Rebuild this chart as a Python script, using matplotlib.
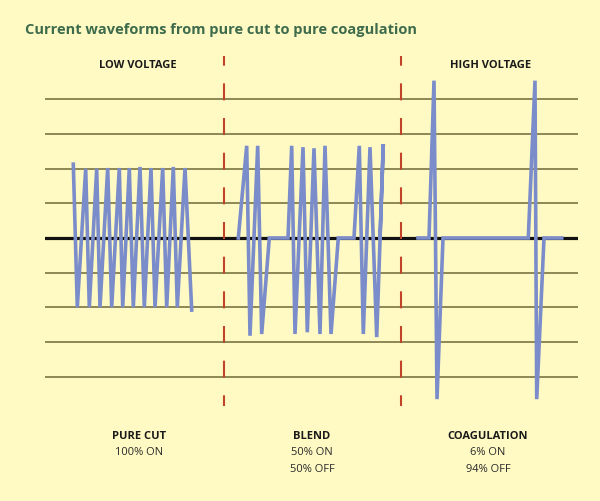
import numpy as np
import matplotlib
matplotlib.use("Agg")
import matplotlib.pyplot as plt

# waveform data: x in time units (px from left of the grid), y in grid units
cut_x = [28.3, 32.3, 40.7, 44.3, 51.7, 55.0, 62.7, 66.7, 74.3, 77.7, 84.3,
         88.3, 95.0, 99.3, 106.0, 110.0, 117.7, 121.7, 128.3, 132.3, 140.0, 146.7]
cut_y = [2.13, -2.0, 2.0, -2.0, 2.0, -2.0, 2.02, -2.0, 2.02, -2.0, 2.02,
         -2.0, 2.05, -2.0, 2.02, -2.0, 2.02, -2.0, 2.05, -2.0, 2.02, -2.08]

blend_x = [193.3, 201.7, 205.0, 212.7, 216.7, 224.3, 243.0, 246.7, 250.0, 258.0,
           262.3, 269.0, 275.0, 280.0, 286.0, 293.3, 309.0, 314.3, 318.3, 325.0,
           331.7, 338.3, 335.0]
blend_y = [0, 2.66, -2.82, 2.66, -2.77, 0, 0, 2.66, -2.77, 2.62,
           -2.72, 2.59, -2.77, 2.66, -2.77, 0, 0, 2.66, -2.77, 2.62,
           -2.86, 2.71, 0]

coag_x = [373.0, 384.0, 389.0, 392.0, 398.0, 483.3, 490.0, 491.7, 499.0, 516.7]
coag_y = [0, 0, 4.54, -4.65, 0, 0, 4.54, -4.65, 0, 0]

grid_levels = [-4, -3, -2, -1, 1, 2, 3, 4]
divider_x = [179, 356]

section_heads = ["PURE CUT", "BLEND", "COAGULATION"]
section_lines = [["100% ON"], ["50% ON", "50% OFF"], ["6% ON", "94% OFF"]]
section_cx = [139, 312, 488]

W, H = 600, 502
bg = "#fffac3"
blue = "#7b8ccb"

fig = plt.figure(figsize=(W / 100, H / 100), dpi=100)
fig.patch.set_facecolor(bg)

# axes spans the grid horizontally and the whole figure vertically
x0, x1 = 45, 578
base_px, unit_px = 239, 34.66
ax = fig.add_axes([x0 / W, 0, (x1 - x0) / W, 1])
ax.set_xlim(0, x1 - x0)
ax.set_ylim(-(H - base_px) / unit_px, base_px / unit_px)
ax.axis("off")

for lv in grid_levels:
    ax.axhline(lv, color="#6e6838", lw=1.1, zorder=1)
ax.axhline(0, color="#111111", lw=2.3, zorder=1)

# dashes end on each grid line: 17px on, 17.66px off (px -> pt, scaled by lw)
red_lw = 1.5
px2pt = 0.72 / red_lw
for dx in divider_x:
    ax.plot([dx, dx], [5.25, -4.85], color="#c0432a", lw=red_lw,
            linestyle=(7.3 * px2pt, (17 * px2pt, 17.66 * px2pt)), zorder=2)

for xs, ys in [(cut_x, cut_y), (blend_x, blend_y), (coag_x, coag_y)]:
    ax.plot(xs, ys, color=blue, lw=2.6, solid_joinstyle="miter", zorder=3)

font = "Open Sans"
fig.text(25 / W, 1 - 30 / H, "Current waveforms from pure cut to pure coagulation",
         color="#3d6b4c", fontsize=10.5, fontweight="bold", family=font,
         ha="left", va="center")
fig.text(138 / W, 1 - 65 / H, "LOW VOLTAGE", fontsize=8, fontweight="bold",
         family=font, ha="center", va="center", color="#1a1a1a")
fig.text(491 / W, 1 - 65 / H, "HIGH VOLTAGE", fontsize=8, fontweight="bold",
         family=font, ha="center", va="center", color="#1a1a1a")

for head, lines, cx in zip(section_heads, section_lines, section_cx):
    fig.text(cx / W, 1 - 437 / H, head, fontsize=8, fontweight="bold",
             family=font, ha="center", va="center", color="#1a1a1a")
    for k, ln in enumerate(lines):
        fig.text(cx / W, 1 - (453 + 17 * k) / H, ln, fontsize=8,
                 family=font, ha="center", va="center", color="#2a2a2a")

plt.savefig("out.png", dpi=100, facecolor=bg)
